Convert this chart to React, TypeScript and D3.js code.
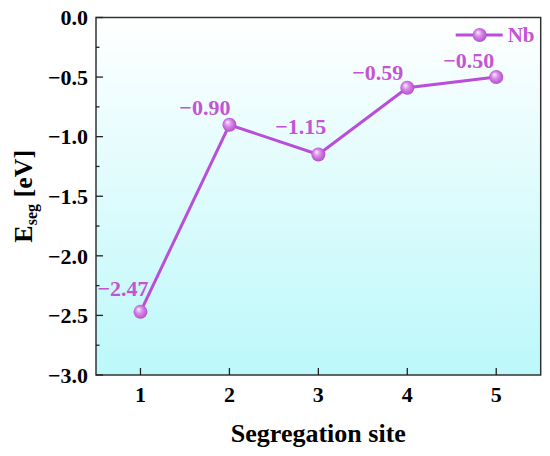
import { useEffect, useRef } from "react";
import * as d3 from "d3";

// segregation energy of Nb at each site
const sites = [1, 2, 3, 4, 5];
const eseg = [-2.47, -0.9, -1.15, -0.59, -0.5];
const yTicks = [0, -0.5, -1.0, -1.5, -2.0, -2.5, -3.0];
const seriesName = "Nb";

// hand-placed label nudges (dx, dy) relative to each point
const labelNudge: [number, number][] = [
  [8, -16],
  [1, -10],
  [8, -21],
  [-4, -8],
  [-2, -9],
];

const W = 550;
const H = 456;
const FONT = "Liberation Serif";
const PURPLE = "#b94fd9";
const LABEL = "#c453d6";

const App = () => {
  const svgRef = useRef<SVGSVGElement>(null);

  useEffect(() => {
    const margin = { top: 17.5, right: 9.3, bottom: 81, left: 96 };
    const width = W - margin.left - margin.right;
    const height = H - margin.top - margin.bottom;

    const root = d3.select(svgRef.current);
    root.selectAll("*").remove();

    const defs = root.append("defs");
    const bg = defs
      .append("linearGradient")
      .attr("id", "bg")
      .attr("x1", 0)
      .attr("y1", 0)
      .attr("x2", 0)
      .attr("y2", 1);
    bg.append("stop").attr("offset", "0%").attr("stop-color", "#ffffff");
    bg.append("stop").attr("offset", "100%").attr("stop-color", "#bcf8fa");

    const ball = defs
      .append("radialGradient")
      .attr("id", "ball")
      .attr("cx", "50%")
      .attr("cy", "50%")
      .attr("fx", "35%")
      .attr("fy", "30%")
      .attr("r", "60%");
    ball.append("stop").attr("offset", "0%").attr("stop-color", "#fbeefe");
    ball.append("stop").attr("offset", "40%").attr("stop-color", "#d98be9");
    ball.append("stop").attr("offset", "100%").attr("stop-color", "#a73ec6");

    const svg = root
      .append("g")
      .style("font-family", FONT)
      .style("font-weight", "bold")
      .attr("transform", `translate(${margin.left},${margin.top})`);

    const x = d3.scaleLinear().domain([0.5, 5.5]).range([0, width]);
    const y = d3.scaleLinear().domain([-3, 0]).range([height, 0]);

    // plot background
    svg
      .append("rect")
      .attr("width", width)
      .attr("height", height)
      .attr("fill", "url(#bg)");

    // frame
    svg
      .append("rect")
      .attr("width", width)
      .attr("height", height)
      .attr("fill", "none")
      .attr("stroke", "#333")
      .attr("stroke-width", 1.5);

    // y axis: major + minor ticks, inward
    const minor = d3.range(-3, 0.001, 0.25);
    svg
      .selectAll(".ytick")
      .data(minor)
      .enter()
      .append("line")
      .attr("x1", 0)
      .attr("x2", (d) => (Math.abs(d * 2 - Math.round(d * 2)) < 1e-6 ? 7 : 3.5))
      .attr("y1", (d) => y(d))
      .attr("y2", (d) => y(d))
      .attr("stroke", "#222")
      .attr("stroke-width", 1.3);

    svg
      .selectAll(".ylab")
      .data(yTicks)
      .enter()
      .append("text")
      .attr("x", -8)
      .attr("y", (d) => y(d))
      .attr("dy", "0.35em")
      .attr("text-anchor", "end")
      .attr("font-size", 22)
      .text((d) => d3.format(".1f")(d).replace("-", "\u2212"));

    // x axis ticks, inward
    svg
      .selectAll(".xtick")
      .data(sites)
      .enter()
      .append("line")
      .attr("x1", (d) => x(d))
      .attr("x2", (d) => x(d))
      .attr("y1", height)
      .attr("y2", height - 7)
      .attr("stroke", "#222")
      .attr("stroke-width", 1.3);

    svg
      .selectAll(".xlab")
      .data(sites)
      .enter()
      .append("text")
      .attr("x", (d) => x(d))
      .attr("y", height + 27)
      .attr("text-anchor", "middle")
      .attr("font-size", 22)
      .text((d) => String(d));

    // axis titles
    svg
      .append("text")
      .attr("x", width / 2)
      .attr("y", height + 67)
      .attr("text-anchor", "middle")
      .attr("font-size", 26)
      .text("Segregation site");

    const yt = svg
      .append("text")
      .attr("transform", `translate(${-64},${height / 2}) rotate(-90)`)
      .attr("text-anchor", "middle")
      .attr("font-size", 26);
    yt.append("tspan").text("E");
    yt.append("tspan").attr("font-size", 16).attr("dy", 5).text("seg");
    yt.append("tspan").attr("dy", -5).text(" [eV]");

    // line + markers
    const pts = sites.map((s, i) => [s, eseg[i]] as [number, number]);
    const line = d3
      .line<[number, number]>()
      .x((d) => x(d[0]))
      .y((d) => y(d[1]));

    svg
      .append("path")
      .datum(pts)
      .attr("d", line)
      .attr("fill", "none")
      .attr("stroke", PURPLE)
      .attr("stroke-width", 3);

    svg
      .selectAll(".pt")
      .data(pts)
      .enter()
      .append("circle")
      .attr("cx", (d) => x(d[0]))
      .attr("cy", (d) => y(d[1]))
      .attr("r", 7)
      .attr("fill", "url(#ball)");

    svg
      .selectAll(".val")
      .data(pts)
      .enter()
      .append("text")
      .attr("x", (d, i) => x(d[0]) + labelNudge[i][0])
      .attr("y", (d, i) => y(d[1]) + labelNudge[i][1])
      .attr("text-anchor", "end")
      .attr("font-size", 22)
      .attr("fill", LABEL)
      .text((d) => d3.format(".2f")(d[1]).replace("-", "\u2212"));

    // legend
    const lg = svg.append("g").attr("transform", `translate(${width - 85},${17.5})`);
    lg.append("line")
      .attr("x1", 0)
      .attr("x2", 47)
      .attr("stroke", PURPLE)
      .attr("stroke-width", 3);
    lg.append("circle").attr("cx", 24).attr("r", 7).attr("fill", "url(#ball)");
    lg.append("text")
      .attr("x", 52)
      .attr("dy", "0.35em")
      .attr("font-size", 21)
      .attr("fill", LABEL)
      .text(seriesName);
  }, []);

  return (
    <div style={{ position: "fixed", left: 0, top: 0, background: "#fff" }}>
      <svg ref={svgRef} width={W} height={H} style={{ display: "block" }}></svg>
    </div>
  );
};

export default App;
